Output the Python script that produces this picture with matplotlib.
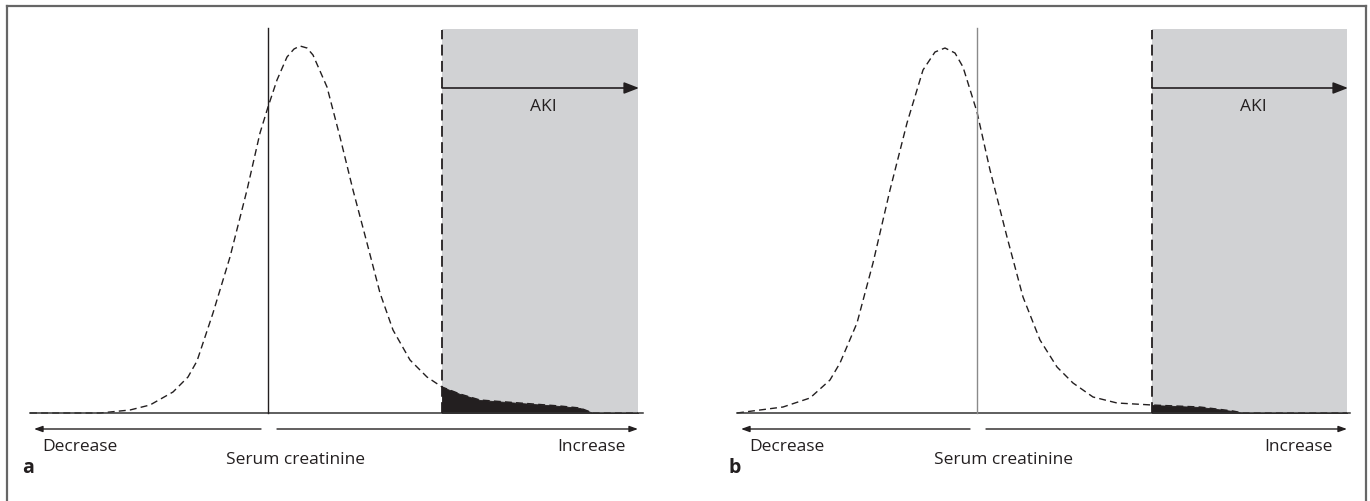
import matplotlib.pyplot as plt
from matplotlib.lines import Line2D

plt.rcParams['font.family'] = ['Open Sans', 'DejaVu Sans']

# panel a: serum creatinine distribution (arbitrary units)
a_x = [0, 70, 100, 120, 143, 158, 167, 183, 200, 217, 230, 238, 247, 257, 264, 270,
       277, 283, 297, 310, 323, 337, 350, 363, 380, 397, 412]
a_y = [0, 0, 3, 8, 21, 36, 52, 100, 156, 223, 280, 306, 333, 356, 364, 367,
       365, 358, 326, 276, 223, 170, 120, 83, 53, 36, 26]
a_tail_x = [412, 430, 450, 490, 530, 550, 563, 608]
a_tail_y = [26, 19, 13, 10, 7, 5, 0, 0]
a_ref = 238
a_cut = 412

# panel b
b_x = [0, 46, 73, 93, 103, 120, 136, 153, 170, 186, 198, 208, 218, 226, 240,
       253, 270, 286, 303, 320, 336, 356, 380, 415]
b_y = [0, 6, 15, 33, 50, 90, 150, 223, 290, 343, 361, 365, 360, 346, 301,
       243, 176, 116, 73, 46, 30, 16, 10, 8]
b_tail_x = [415, 463, 496, 506, 610]
b_tail_y = [8, 6, 2, 0, 0]
b_ref = 240
b_cut = 415

W, H = 1370, 501
fig = plt.figure(figsize=(W / 100, H / 100), dpi=100)

# outer frame
fig.add_artist(Line2D([7 / W, 1366 / W], [1 - 6 / H, 1 - 6 / H], color='#666666', lw=1.6))
fig.add_artist(Line2D([7 / W, 7 / W], [0, 1 - 6 / H], color='#666666', lw=1.6))
fig.add_artist(Line2D([1366 / W, 1366 / W], [0, 1 - 6 / H], color='#666666', lw=1.6))


def panel(left_px, cx, cy, tx, ty, ref, cut, ref_color, letter):
    ax = fig.add_axes([left_px / W, (H - 413) / H, 613 / W, 385 / H])
    ax.set_xlim(0, 613)
    ax.set_ylim(0, 385)
    ax.axis('off')
    end = tx[-1]

    ax.fill_between([cut, end], 0, 384, color='#d1d2d4', lw=0, zorder=0)
    ax.plot(cx + tx[1:], cy + ty[1:], color='#231f20', lw=1.0,
            dashes=(5, 3), zorder=2, clip_on=False)
    ax.fill_between(tx, 0, ty, color='#231f20', lw=0.6, edgecolor='#231f20',
                    zorder=3, clip_on=False)
    ax.plot([0, 613], [0, 0], color='#333333', lw=1.1, zorder=4, clip_on=False)
    ax.plot([ref, ref], [0, 385], color=ref_color, lw=1.0, zorder=4, clip_on=False)
    ax.plot([cut, cut], [0, 383], color='#231f20', lw=1.3, dashes=(6, 3),
            zorder=4, clip_on=False)

    # AKI arrow
    ax.annotate('', xy=(end + 1, 325), xytext=(cut, 325),
                arrowprops=dict(arrowstyle='-|>,head_length=0.9,head_width=0.35',
                                color='#231f20', lw=1.2, shrinkA=0, shrinkB=0))
    ax.text(cut + 101, 306, 'AKI', ha='center', va='center', fontsize=12.5,
            color='#231f20')

    # lower direction arrows
    ax.annotate('', xy=(4, -16), xytext=(ref - 7, -16), annotation_clip=False,
                arrowprops=dict(arrowstyle='-|>,head_length=0.5,head_width=0.18',
                                color='#231f20', lw=1.0, shrinkA=0, shrinkB=0))
    ax.annotate('', xy=(end, -16), xytext=(ref + 9, -16), annotation_clip=False,
                arrowprops=dict(arrowstyle='-|>,head_length=0.5,head_width=0.18',
                                color='#231f20', lw=1.0, shrinkA=0, shrinkB=0))
    ax.text(12, -34, 'Decrease', ha='left', va='center', fontsize=12.5,
            color='#231f20', clip_on=False)
    ax.text(266, -47, 'Serum creatinine', ha='center', va='center', fontsize=12.5,
            color='#231f20', clip_on=False)
    ax.text(596, -34, 'Increase', ha='right', va='center', fontsize=12.5,
            color='#231f20', clip_on=False)
    ax.text(-8, -55, letter, ha='left', va='center', fontsize=14,
            fontweight='bold', color='#231f20', clip_on=False)
    return ax


panel(30, a_x, a_y, a_tail_x, a_tail_y, a_ref, a_cut, '#231f20', 'a')
panel(737, b_x, b_y, b_tail_x, b_tail_y, b_ref, b_cut, '#8a8a8a', 'b')

fig.savefig('out.png', dpi=100)
